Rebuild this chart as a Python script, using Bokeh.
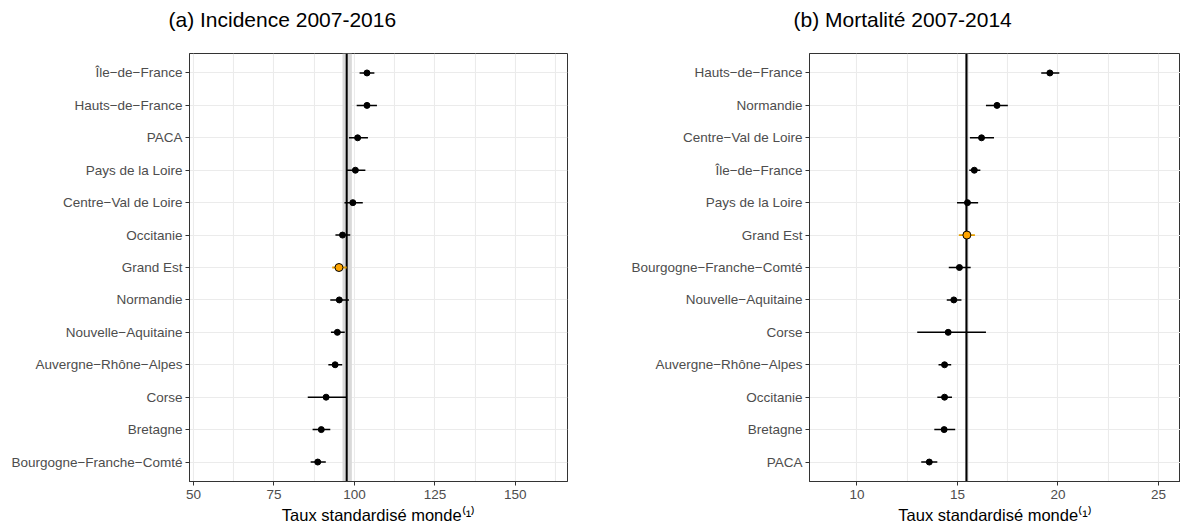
from bokeh.plotting import figure
from bokeh.layouts import row
from bokeh.models import (FactorRange, Range1d, SingleIntervalTicker, Span,
                          BoxAnnotation, ColumnDataSource, Title)
from bokeh.embed import file_html
from bokeh.resources import INLINE

FONT = "Liberation Sans"
HIGHLIGHT = "Grand Est"

# ---- (a) Incidence 2007-2016 (top to bottom) ----
inc_title = "(a) Incidence 2007-2016"
inc_regions = ["Île−de−France", "Hauts−de−France", "PACA", "Pays de la Loire",
               "Centre−Val de Loire", "Occitanie", "Grand Est", "Normandie",
               "Nouvelle−Aquitaine", "Auvergne−Rhône−Alpes", "Corse", "Bretagne",
               "Bourgogne−Franche−Comté"]
inc_rate = [103.9, 103.9, 101.0, 100.3, 99.5, 96.3, 95.2, 95.3, 94.7, 94.0, 91.2, 89.7, 88.6]
inc_lo = [101.6, 100.7, 98.3, 97.5, 96.9, 94.1, 93.1, 92.5, 92.7, 91.9, 85.5, 87.0, 86.4]
inc_hi = [106.2, 107.0, 104.2, 103.4, 102.6, 98.7, 97.6, 98.3, 97.0, 96.2, 97.4, 92.5, 91.1]
inc_ref = 97.6
inc_ref_lo = 96.3
inc_ref_hi = 99.2

# ---- (b) Mortalité 2007-2014 (top to bottom) ----
mort_title = "(b) Mortalité 2007-2014"
mort_regions = ["Hauts−de−France", "Normandie", "Centre−Val de Loire", "Île−de−France",
                "Pays de la Loire", "Grand Est", "Bourgogne−Franche−Comté",
                "Nouvelle−Aquitaine", "Corse", "Auvergne−Rhône−Alpes", "Occitanie",
                "Bretagne", "PACA"]
mort_rate = [19.6, 16.97, 16.2, 15.84, 15.5, 15.47, 15.1, 14.82, 14.54, 14.36, 14.36, 14.34, 13.6]
mort_lo = [19.17, 16.42, 15.62, 15.59, 14.98, 15.07, 14.57, 14.47, 13.0, 14.06, 14.0, 13.85, 13.2]
mort_hi = [20.07, 17.51, 16.82, 16.14, 16.03, 15.87, 15.66, 15.2, 16.42, 14.69, 14.73, 14.89, 14.0]
mort_ref = 15.45
mort_ref_lo = 15.38
mort_ref_hi = 15.55

x_label = "Taux standardisé monde⁽¹⁾"


def panel(title, regions, rate, lo, hi, ref, ref_lo, ref_hi, x0, x1, interval,
          frame_width, border_left, border_right, title_offset):
    yr = FactorRange(factors=list(reversed(regions)), range_padding=0.1,
                     range_padding_units="absolute")
    p = figure(y_range=yr, x_range=Range1d(x0, x1), frame_width=frame_width,
               frame_height=428, min_border_left=border_left,
               min_border_right=border_right, min_border_top=50,
               min_border_bottom=46, output_backend="svg", title=None,
               toolbar_location=None, background_fill_color="white",
               border_fill_color="white")
    # spacer between frame and title, then the title itself
    p.add_layout(Title(text=" ", text_font=FONT, text_font_size="5px"), "above")
    p.add_layout(Title(text=title, align="left", offset=title_offset,
                       text_font=FONT, text_font_size="21px",
                       text_font_style="normal", text_color="black"), "above")

    ticker = SingleIntervalTicker(interval=interval, num_minor_ticks=2)
    p.xaxis.ticker = ticker
    p.xgrid.ticker = ticker
    p.xgrid.grid_line_color = None
    p.xgrid.minor_grid_line_color = "#EBEBEB"
    p.xgrid.minor_grid_line_width = 1.1
    p.ygrid.grid_line_color = "#EBEBEB"
    p.ygrid.grid_line_width = 1.2

    p.outline_line_color = "#333333"
    p.outline_line_width = 1
    for ax in (p.xaxis, p.yaxis):
        ax.axis_line_color = "#333333"
        ax.axis_line_width = 1
        ax.major_tick_line_color = "#333333"
        ax.major_tick_out = 4
        ax.major_tick_in = 0
        ax.minor_tick_line_color = None
        ax.major_label_text_font = FONT
        ax.major_label_text_font_size = "13.5px"
        ax.major_label_text_color = "#4D4D4D"
        ax.major_label_standoff = 3
    p.xaxis.major_label_standoff = 4
    p.xaxis.axis_label = x_label
    p.xaxis.axis_label_text_font = FONT
    p.xaxis.axis_label_text_font_size = "16.5px"
    p.xaxis.axis_label_text_font_style = "normal"
    p.xaxis.axis_label_text_color = "black"
    p.xaxis.axis_label_standoff = 4

    band = BoxAnnotation(left=ref_lo, right=ref_hi, fill_color="#D9D9D9",
                         fill_alpha=1.0, line_color=None, level="underlay")
    p.add_layout(band)
    p.add_layout(Span(location=ref, dimension="height", line_color="black",
                      line_width=2, level="underlay"))

    normal = [i for i, r in enumerate(regions) if r != HIGHLIGHT]
    hl = [i for i, r in enumerate(regions) if r == HIGHLIGHT]
    src = ColumnDataSource(dict(region=[regions[i] for i in normal],
                                rate=[rate[i] for i in normal],
                                lo=[lo[i] for i in normal],
                                hi=[hi[i] for i in normal]))
    hsrc = ColumnDataSource(dict(region=[regions[i] for i in hl],
                                 rate=[rate[i] for i in hl],
                                 lo=[lo[i] for i in hl],
                                 hi=[hi[i] for i in hl]))
    p.segment(x0="lo", y0="region", x1="hi", y1="region", source=src,
              line_color="black", line_width=1.5)
    p.scatter(x="rate", y="region", source=src, size=6, fill_color="black",
              line_color="black")
    p.segment(x0="lo", y0="region", x1="hi", y1="region", source=hsrc,
              line_color="#E69F00", line_width=1.8)
    p.scatter(x="rate", y="region", source=hsrc, size=8, fill_color="#FFA500",
              line_color="black", line_width=1)
    return p


p1 = panel(inc_title, inc_regions, inc_rate, inc_lo, inc_hi, inc_ref,
           inc_ref_lo, inc_ref_hi, 48.76, 166.2, 25, 378, 189, 20, -21)
p2 = panel(mort_title, mort_regions, mort_rate, mort_lo, mort_hi, mort_ref,
           mort_ref_lo, mort_ref_hi, 7.64, 26.1, 5, 371, 222, 0, -16)

layout = row(p1, p2)
open("out.html", "w").write(file_html(layout, INLINE))
